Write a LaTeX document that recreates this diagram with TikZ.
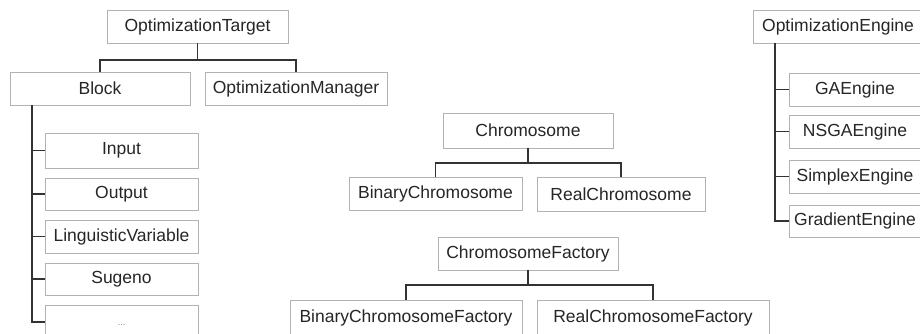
\documentclass[tikz,border=0pt]{standalone}
\usepackage{fontspec}
\setmainfont{Liberation Sans}
\begin{document}
\begin{tikzpicture}[x=1pt,y=-1pt,
  box/.style={draw=gray!60, line width=0.7pt, fill=white, inner sep=0pt,
    font=\fontsize{17.5}{20}\selectfont, text=black!85},
  conn/.style={draw=black!80, line width=1.3pt}]
\useasboundingbox (0,0) rectangle (920,333);
\fill[white] (0,0) rectangle (920,333);
\clip (0,0) rectangle (920,333);

% left tree
\node[box, minimum width=181pt, minimum height=33pt] (ot) at (197.5,26.5) {OptimizationTarget};
\node[box, minimum width=180pt, minimum height=33pt] (blk) at (100,88.5) {Block};
\node[box, minimum width=182pt, minimum height=33pt] (om) at (296,88.5) {OptimizationManager};
\node[box, minimum width=153pt, minimum height=35pt] (inp) at (121.5,150.5) {Input};
\node[box, minimum width=153pt, minimum height=32pt] (outp) at (121.5,194) {Output};
\node[box, minimum width=153pt, minimum height=33pt] (lv) at (121.5,236.5) {LinguisticVariable};
\node[box, minimum width=153pt, minimum height=32pt] (su) at (121.5,279) {Sugeno};
\node[box, minimum width=153pt, minimum height=34pt] (dots) at (121.5,322) {\raisebox{-6pt}{\fontsize{9}{10}\selectfont\color{gray}...}};

\coordinate (j1) at (197.5,60);
\draw[conn] (ot.south) -- (j1);
\draw[conn] (blk.north) |- (j1) -| (om.north);

\coordinate (bt) at (32,105);
\draw[conn] (bt) |- (dots.west);
\foreach \n in {inp,outp,lv,su}
  \draw[conn] (bt |- \n.west) -- (\n.west);

% chromosome trees
\node[box, minimum width=170pt, minimum height=35pt] (ch) at (528,130.5) {Chromosome};
\node[box, minimum width=173pt, minimum height=33pt] (bc) at (435.5,193.5) {BinaryChromosome};
\node[box, minimum width=168pt, minimum height=34pt] (rc) at (621,194) {RealChromosome};
\coordinate (cj) at (528,163);
\draw[conn] (ch.south) -- (cj);
\draw[conn] (bc.north) |- (cj) -| (rc.north);

\node[box, minimum width=180pt, minimum height=33pt] (cf) at (528,253.5) {ChromosomeFactory};
\node[box, minimum width=232pt, minimum height=35pt] (bcf) at (406,317.5) {BinaryChromosomeFactory};
\node[box, minimum width=232pt, minimum height=35pt] (rcf) at (653,317.5) {RealChromosomeFactory};
\coordinate (fj) at (528,285);
\draw[conn] (cf.south) -- (fj);
\draw[conn] (bcf.north) |- (fj) -| (rcf.north);

% engine tree
\node[box, minimum width=170pt, minimum height=33pt] (oe) at (838,26.5) {OptimizationEngine};
\node[box, minimum width=132pt, minimum height=33pt] (ga) at (855,89.5) {GAEngine};
\node[box, minimum width=132pt, minimum height=33pt] (ns) at (855,131.5) {NSGAEngine};
\node[box, minimum width=132pt, minimum height=33pt] (sx) at (855,176.5) {SimplexEngine};
\node[box, minimum width=132pt, minimum height=32pt] (gr) at (855,221) {GradientEngine};
\coordinate (et) at (775,43);
\draw[conn] (et) |- (gr.west);
\foreach \n in {ga,ns,sx}
  \draw[conn] (et |- \n.west) -- (\n.west);
\end{tikzpicture}
\end{document}
